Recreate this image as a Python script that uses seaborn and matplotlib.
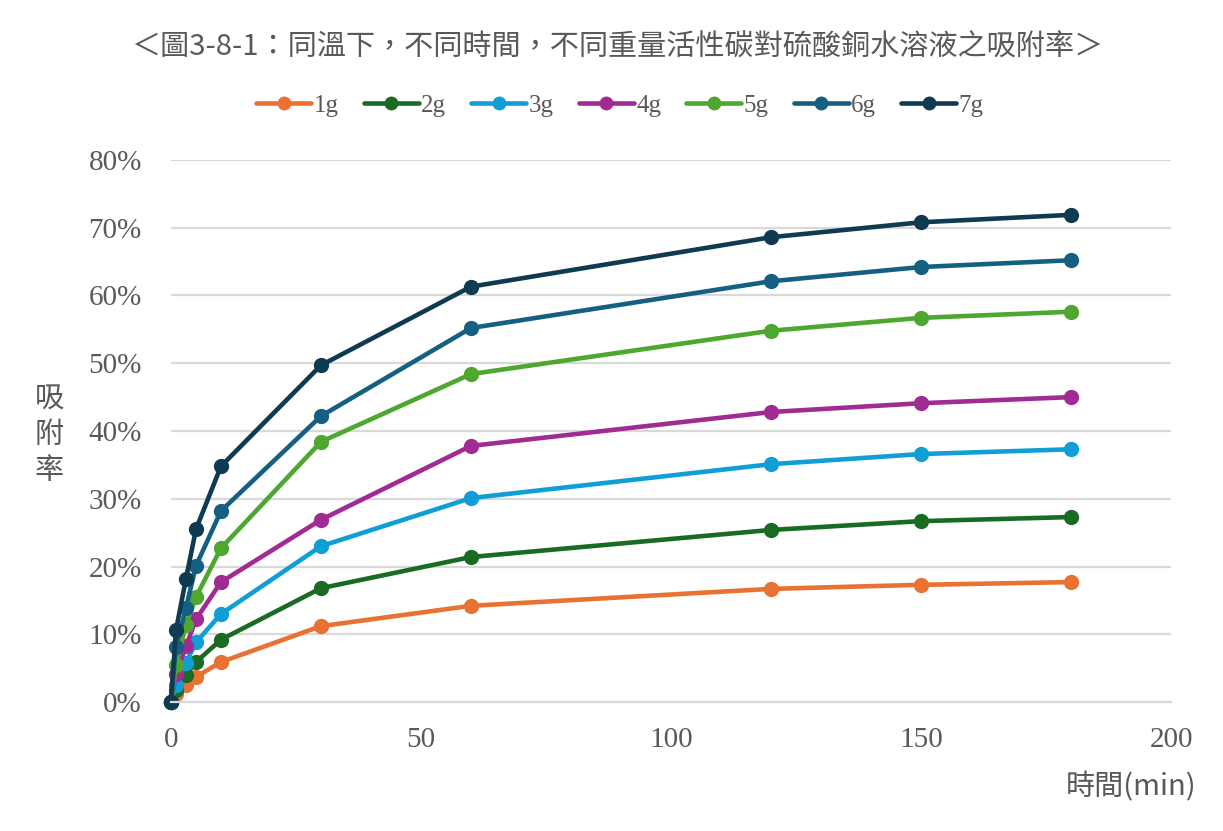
import numpy as np
import pandas as pd
import seaborn as sns
import matplotlib.pyplot as plt
from matplotlib.ticker import PercentFormatter

# 時間 (min)
times = [0, 1, 3, 5, 10, 30, 60, 120, 150, 180]
masses = ["1g", "2g", "3g", "4g", "5g", "6g", "7g"]

# 吸附率 (%)
rate_1g = [0, 1.2, 2.5, 3.7, 5.9, 11.2, 14.2, 16.7, 17.3, 17.7]
rate_2g = [0, 1.8, 4.0, 5.9, 9.2, 16.8, 21.4, 25.4, 26.7, 27.3]
rate_3g = [0, 2.5, 5.8, 8.8, 13.0, 23.0, 30.1, 35.1, 36.6, 37.3]
rate_4g = [0, 4.2, 8.2, 12.2, 17.7, 26.9, 37.8, 42.8, 44.1, 45.0]
rate_5g = [0, 5.5, 11.4, 15.5, 22.7, 38.4, 48.4, 54.8, 56.7, 57.6]
rate_6g = [0, 8.1, 13.9, 20.1, 28.2, 42.2, 55.2, 62.1, 64.2, 65.2]
rate_7g = [0, 10.6, 18.2, 25.5, 34.8, 49.7, 61.3, 68.6, 70.8, 71.9]

colors = ["#E97132", "#196B24", "#0F9ED5", "#A02B93", "#4EA72E", "#156082", "#0E3A52"]

all_rates = [rate_1g, rate_2g, rate_3g, rate_4g, rate_5g, rate_6g, rate_7g]
rows = []
for m, r in zip(masses, all_rates):
    for t, v in zip(times, r):
        rows.append({"time": t, "rate": v, "mass": m})
df = pd.DataFrame(rows)

sns.set_style("white")
plt.rcParams['font.family'] = ['Liberation Serif', 'Noto Sans CJK TC', 'DejaVu Sans']
cjk = ['Noto Sans CJK TC', 'DejaVu Sans']

fig = plt.figure(figsize=(12.23, 8.31), dpi=100)
ax = fig.add_axes([0.1398, 0.1552, 0.8177, 0.6523])

sns.lineplot(data=df, x="time", y="rate", hue="mass", hue_order=masses,
             palette=colors, marker="o", markersize=11, markeredgewidth=0,
             linewidth=3.3, ax=ax, legend=False)
for line in ax.lines:
    line.set_clip_on(False)

ax.set_xlim(0, 200)
ax.set_ylim(0, 80)
ax.set_xticks([0, 50, 100, 150, 200])
ax.set_yticks(np.arange(0, 81, 10))
ax.yaxis.set_major_formatter(PercentFormatter(decimals=0))
ax.grid(axis="y", color="#D9D9D9", linewidth=1.6)
ax.set_axisbelow(True)
for s in ["top", "right", "left"]:
    ax.spines[s].set_visible(False)
ax.spines["bottom"].set_color("#D9D9D9")
ax.spines["bottom"].set_linewidth(1.6)
ax.tick_params(axis="both", length=0, labelsize=21, labelcolor="#595959")
ax.tick_params(axis="x", pad=18)
ax.tick_params(axis="y", pad=21)
ax.set_xlabel("")
ax.set_ylabel("")

# 標題
fig.text(0.505, 0.943, "＜圖3-8-1：同溫下，不同時間，不同重量活性碳對硫酸銅水溶液之吸附率＞",
         ha="center", va="center", fontsize=21, color="#595959", family=cjk)

# 圖例
handles = [plt.Line2D([], [], color=c, marker="o", markersize=10, markeredgewidth=0,
                      linewidth=3.3) for c in colors]
fig.legend(handles, masses, loc="center", bbox_to_anchor=(0.507, 0.873), ncol=7,
           frameon=False, fontsize=18, labelcolor="#595959", handlelength=2.2,
           handletextpad=0.1, columnspacing=1.0)

fig.text(0.040, 0.4765, "吸\n附\n率", ha="center", va="center", fontsize=21,
         color="#595959", linespacing=1.25, family=cjk)
fig.text(0.978, 0.053, "時間(min)", ha="right", va="center", fontsize=21,
         color="#595959", family=cjk)

fig.savefig("out.png", dpi=100)
